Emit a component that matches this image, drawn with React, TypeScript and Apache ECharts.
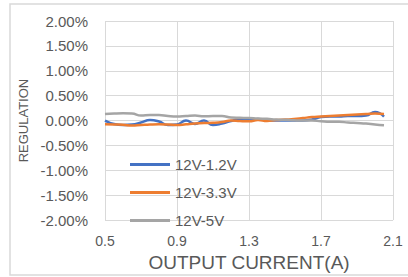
import React, { useEffect, useRef } from "react";
import * as echarts from "echarts";

const currents = [
  0.5, 0.55, 0.6, 0.65, 0.7, 0.75, 0.8, 0.85, 0.9, 0.95, 1.0, 1.05, 1.1, 1.15, 1.2, 1.25,
  1.3, 1.35, 1.4, 1.45, 1.5, 1.55, 1.6, 1.65, 1.7, 1.75, 1.8, 1.85, 1.9, 1.95, 2.0, 2.05,
];
const reg12V1V2 = [
  0.0, -0.07, -0.09, -0.08, -0.04, 0.01, -0.02, -0.09, -0.08, 0.0, -0.07, 0.0, -0.09, -0.06, -0.01, 0.02,
  0.01, 0.03, 0.0, 0.0, 0.0, 0.0, 0.0, 0.02, 0.07, 0.08, 0.08, 0.09, 0.09, 0.1, 0.17, 0.08,
];
const reg12V3V3 = [
  -0.075, -0.08, -0.085, -0.1, -0.09, -0.08, -0.075, -0.08, -0.09, -0.075, -0.06, -0.05, -0.045, -0.03, 0.0, -0.01,
  -0.015, 0.01, -0.01, 0.01, 0.02, 0.03, 0.05, 0.07, 0.08, 0.09, 0.1, 0.11, 0.12, 0.13, 0.14, 0.13,
];
const reg12V5V = [
  0.13, 0.14, 0.145, 0.14, 0.1, 0.11, 0.11, 0.09, 0.08, 0.09, 0.1, 0.085, 0.09, 0.09, 0.06, 0.055,
  0.05, 0.04, 0.035, 0.02, 0.015, 0.005, 0.0, 0.0, -0.015, -0.025, -0.025, -0.04, -0.05, -0.06, -0.08, -0.095,
];
const seriesNames = ["12V-1.2V", "12V-3.3V", "12V-5V"];
const seriesColors = ["#4472C4", "#ED7D31", "#A5A5A5"];

const FONT = "Liberation Sans, Arial, sans-serif";
const TXT = "#595959";

export default function App() {
  const ref = useRef<HTMLDivElement>(null);
  useEffect(() => {
    document.body.style.margin = "0";
    if (!ref.current) return;
    const chart = echarts.init(ref.current, undefined, { renderer: "svg" });
    const datasets = [reg12V1V2, reg12V3V3, reg12V5V];
    chart.setOption({
      animation: false,
      backgroundColor: "#ffffff",
      grid: { left: 105, right: 15, top: 21, bottom: 51, containLabel: false },
      graphic: [
        {
          type: "rect",
          shape: { x: 10, y: 4, width: 420, height: 271 },
          style: { fill: "none", stroke: "#d9d9d9", lineWidth: 1.5 },
          silent: true,
        },
      ],
      legend: {
        orient: "vertical",
        left: 130,
        top: 157,
        padding: 0,
        itemGap: 13,
        itemWidth: 40,
        itemHeight: 3,
        icon: "rect",
        data: seriesNames,
        textStyle: { color: TXT, fontSize: 15, fontFamily: FONT, padding: [0, 0, 0, 0] },
      },
      xAxis: {
        type: "value",
        min: 0.5,
        max: 2.1,
        interval: 0.4,
        name: "OUTPUT CURRENT(A)",
        nameLocation: "middle",
        nameGap: 28,
        nameTextStyle: { color: TXT, fontSize: 19, fontFamily: FONT },
        axisLine: { show: false },
        axisTick: { show: false },
        splitLine: { show: true, lineStyle: { color: "#d9d9d9", width: 1 } },
        axisLabel: {
          color: TXT,
          fontSize: 14,
          fontFamily: FONT,
          margin: 14,
          formatter: (v: number) => v.toFixed(1),
        },
      },
      yAxis: {
        type: "value",
        min: -2,
        max: 2,
        interval: 0.5,
        name: "REGULATION",
        nameLocation: "middle",
        nameRotate: 90,
        nameGap: 74,
        nameTextStyle: { color: TXT, fontSize: 13, fontFamily: FONT },
        axisLine: { show: false },
        axisTick: { show: false },
        splitLine: { show: true, lineStyle: { color: "#d9d9d9", width: 1 } },
        axisLabel: {
          color: TXT,
          fontSize: 15,
          fontFamily: FONT,
          margin: 17,
          formatter: (v: number) => v.toFixed(2) + "%",
        },
      },
      series: seriesNames.map((name, i) => ({
        name,
        type: "line",
        smooth: 0.5,
        showSymbol: false,
        symbol: "none",
        color: seriesColors[i],
        lineStyle: { color: seriesColors[i], width: 2.5 },
        data: currents.map((c, j) => [c, datasets[i][j]]),
      })),
    });
    return () => chart.dispose();
  }, []);
  return <div ref={ref} style={{ width: 408, height: 277 }} />;
}
